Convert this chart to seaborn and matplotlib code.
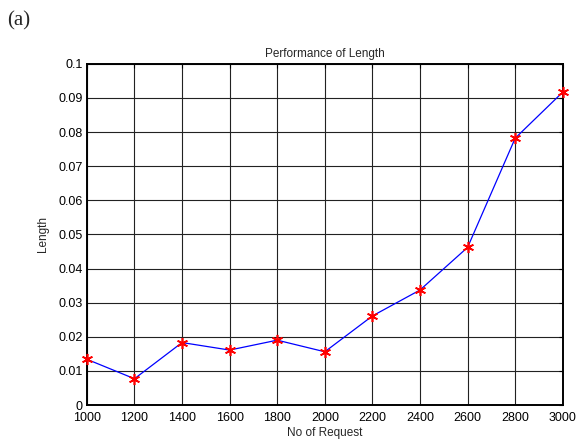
import matplotlib
matplotlib.use("Agg")
import matplotlib.pyplot as plt
import seaborn as sns
import pandas as pd

requests = [1000, 1200, 1400, 1600, 1800, 2000, 2200, 2400, 2600, 2800, 3000]
length = [0.0134, 0.0077, 0.0183, 0.0161, 0.0190, 0.0156, 0.0261, 0.0337, 0.0462, 0.0782, 0.0917]
x_ticks = list(range(1000, 3001, 200))
y_ticks = [0, 0.01, 0.02, 0.03, 0.04, 0.05, 0.06, 0.07, 0.08, 0.09, 0.1]
y_tick_labels = ["0", "0.01", "0.02", "0.03", "0.04", "0.05", "0.06", "0.07", "0.08", "0.09", "0.1"]

df = pd.DataFrame({"requests": requests, "length": length})

sns.set_style("white")
plt.rcParams["font.family"] = ["Liberation Sans", "DejaVu Sans"]

fig = plt.figure(figsize=(5.79, 4.42), dpi=100)
ax = fig.add_axes([0.150, 0.0837, 0.822, 0.772])

sns.lineplot(data=df, x="requests", y="length", ax=ax, color="blue",
             linewidth=0.9, marker=None, zorder=3)
ax.plot(df["requests"], df["length"], linestyle="none", marker=(6, 2, 0),
        markersize=8, markeredgecolor="red", markeredgewidth=1.2,
        color="red", zorder=4, clip_on=False)

ax.set_xlim(1000, 3000)
ax.set_ylim(0, 0.1)
ax.set_xticks(x_ticks)
ax.set_yticks(y_ticks)
ax.set_yticklabels(y_tick_labels)
ax.grid(True, color="#222222", linewidth=0.8, linestyle="-")
ax.set_axisbelow(True)
ax.tick_params(direction="in", length=3, width=0.8, labelsize=9, colors="black",
               top=True, right=True)
ax.tick_params(axis="x", pad=5)
ax.tick_params(axis="y", pad=3)
for s in ax.spines.values():
    s.set_color("black")
    s.set_linewidth(1.4)

ax.set_title("Performance of Length", fontsize=8.5, pad=5)
ax.set_xlabel("No of Request", fontsize=8.5, labelpad=2)
ax.set_ylabel("Length", fontsize=8.5, labelpad=7)

fig.text(0.012, 0.952, "(a)", fontsize=15, family=["Liberation Serif", "DejaVu Serif"],
         va="center", ha="left")

fig.savefig("out.png", dpi=100)
